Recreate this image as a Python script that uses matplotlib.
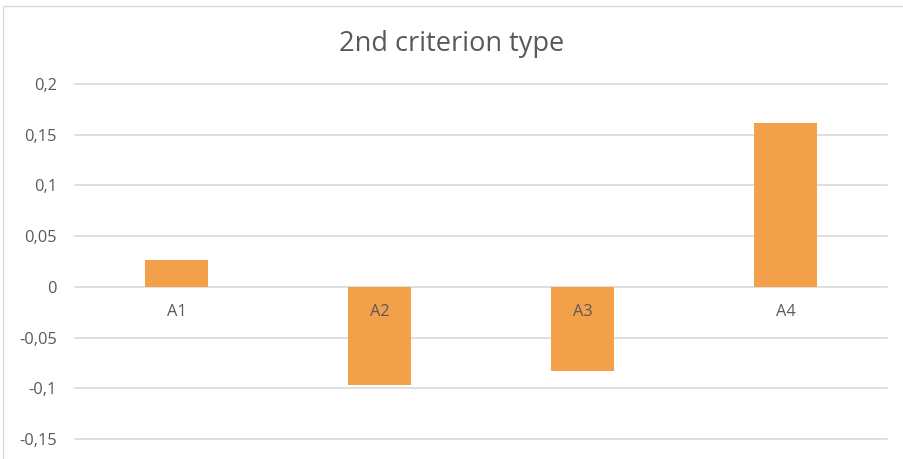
import matplotlib
matplotlib.use("Agg")
import matplotlib.pyplot as plt
from matplotlib.patches import Rectangle

categories = ["A1", "A2", "A3", "A4"]
values = [0.026, -0.097, -0.083, 0.162]
yticks = [-0.15, -0.1, -0.05, 0, 0.05, 0.1, 0.15, 0.2]
ytick_labels = ["-0,15", "-0,1", "-0,05", "0", "0,05", "0,1", "0,15", "0,2"]
title = "2nd criterion type"

plt.rcParams["font.family"] = ["Open Sans", "DejaVu Sans"]
text_color = "#595959"
grid_color = "#d9d9d9"
bar_color = "#F3A04B"

fig = plt.figure(figsize=(9.04, 4.59), dpi=100)
fig.patch.set_facecolor("white")

# chart frame
fig.patches.append(Rectangle((3 / 904, -0.05), 1.0, (459 - 6) / 459 + 0.05,
                             transform=fig.transFigure, fill=False,
                             edgecolor=grid_color, linewidth=1.0))

ax = fig.add_axes([75 / 904, 20 / 459, (887 - 75) / 904, (439 - 84) / 459])
ax.set_facecolor("none")
x = list(range(len(categories)))
ax.bar(x, values, width=0.315, color=bar_color, zorder=3)
ax.set_xlim(-0.5, len(categories) - 0.5)
ax.set_ylim(-0.15, 0.2)
ax.set_yticks(yticks)
ax.set_yticklabels(ytick_labels, color=text_color, fontsize=11.8)
ax.tick_params(axis="y", length=0, pad=13)
ax.set_xticks([])
for s in ax.spines.values():
    s.set_visible(False)
for yv in yticks:
    ax.axhline(yv, color=grid_color, linewidth=1.2, zorder=0, clip_on=False)

for xi, name in zip(x, categories):
    ax.annotate(name, (xi, 0), xytext=(0, -18), textcoords="offset points",
                ha="center", va="center", color=text_color, fontsize=11.8, zorder=4)

fig.text(0.5, (459 - 44) / 459, title, ha="center", va="center",
         color=text_color, fontsize=19.5)

fig.savefig("out.png", dpi=100)
